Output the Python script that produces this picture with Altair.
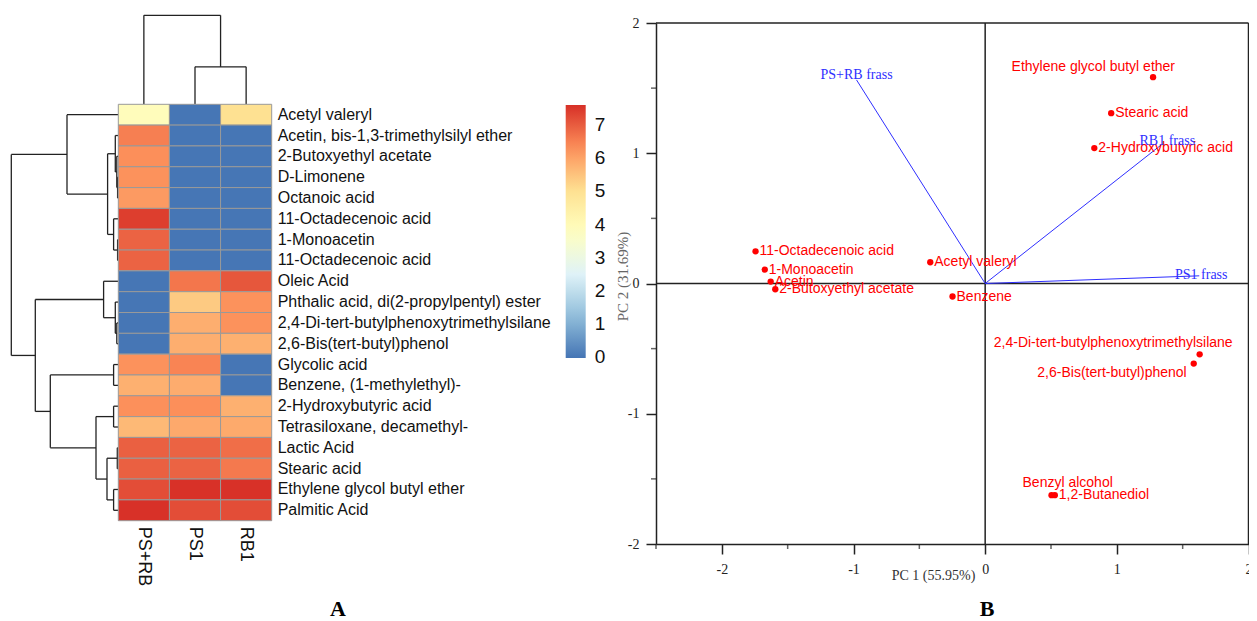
import json
import altair as alt
import pandas as pd

# ---------------- Panel A: heatmap data ----------------
samples = ["PS+RB", "PS1", "RB1"]
compounds = [
    "Acetyl valeryl",
    "Acetin, bis-1,3-trimethylsilyl ether",
    "2-Butoxyethyl acetate",
    "D-Limonene",
    "Octanoic acid",
    "11-Octadecenoic acid",
    "1-Monoacetin",
    "11-Octadecenoic acid",
    "Oleic Acid",
    "Phthalic acid, di(2-propylpentyl) ester",
    "2,4-Di-tert-butylphenoxytrimethylsilane",
    "2,6-Bis(tert-butyl)phenol",
    "Glycolic acid",
    "Benzene, (1-methylethyl)-",
    "2-Hydroxybutyric acid",
    "Tetrasiloxane, decamethyl-",
    "Lactic Acid",
    "Stearic acid",
    "Ethylene glycol butyl ether",
    "Palmitic Acid",
]
val_ps_rb = [3.9, 6.52, 6.3, 6.25, 6.13, 7.41, 6.9, 6.9, 0, 0, 0, 0,
             6.25, 5.8, 6.28, 5.65, 6.95, 6.95, 7.2, 7.58]
val_ps1 = [0, 0, 0, 0, 0, 0, 0, 0, 6.65, 5.39, 5.82, 5.82,
           6.45, 5.85, 6.3, 5.9, 6.9, 6.9, 7.58, 7.2]
val_rb1 = [5.0, 0, 0, 0, 0, 0, 0, 0, 7.07, 6.25, 6.25, 5.8,
           0, 0, 5.8, 5.88, 6.75, 6.6, 7.58, 7.2]

# hierarchical clustering merges (child a, child b, merge height); new node ids continue after leaves
row_merges = [
    (3, 4, 0.7), (2, 20, 1.5), (1, 21, 3.0), (6, 7, 0.7), (5, 23, 4.7),
    (22, 24, 10.7), (0, 25, 51.3), (10, 11, 1.5), (9, 27, 3.0), (8, 28, 14.7),
    (12, 13, 4.7), (14, 15, 4.7), (16, 17, 1.0), (18, 19, 4.7), (32, 33, 11.3),
    (31, 34, 22.3), (30, 35, 68.0), (29, 36, 83.0), (26, 37, 107.0),
]
col_merges = [(1, 2, 37.3), (0, 3, 88.7)]

color_min, color_max = -0.02, 7.6
legend_ticks = [0, 1, 2, 3, 4, 5, 6, 7]
palette = ["#4575B4", "#91BFDB", "#E0F3F8", "#FFFFBF", "#FEE090", "#FC8D59", "#D73027"]

# ---------------- Panel B: PCA biplot data ----------------
score_names = [
    "Ethylene glycol butyl ether", "Stearic acid", "2-Hydroxybutyric acid",
    "11-Octadecenoic acid", "1-Monoacetin", "Acetin", "2-Butoxyethyl acetate",
    "Acetyl valeryl", "Benzene", "2,4-Di-tert-butylphenoxytrimethylsilane",
    "2,6-Bis(tert-butyl)phenol", "Benzyl alcohol", "1,2-Butanediol",
]
score_pc1 = [1.275, 0.957, 0.829, -1.744, -1.674, -1.629, -1.594,
             -0.417, -0.248, 1.629, 1.584, 0.504, 0.529]
score_pc2 = [1.584, 1.308, 1.040, 0.247, 0.107, 0.015, -0.044,
             0.163, -0.100, -0.544, -0.615, -1.625, -1.625]
load_names = ["PS+RB frass", "RB1 frass", "PS1 frass"]
load_pc1 = [-0.977, 1.338, 1.626]
load_pc2 = [1.563, 1.065, 0.059]

pc1_lim = [-2.5, 2.0]
pc2_lim = [-2.0, 2.0]
pc_major = [-2, -1, 0, 1, 2]
pc1_minor = [-2.5, -1.5, -0.5, 0.5, 1.5]
pc2_minor = [-1.5, -0.5, 0.5, 1.5]

# ---------------- layout (pixels inside the view) ----------------
W, H = 1241, 613
heat_x = alt.Scale(domain=[0, len(samples)], range=[110.3, 263.7], nice=False, zero=False)
heat_y = alt.Scale(domain=[0, len(compounds)], range=[96.3, 512.7], nice=False, zero=False)
rowd_x = alt.Scale(domain=[0, 107.0], range=[110.3, 3.3], nice=False, zero=False)
cold_y = alt.Scale(domain=[0, 88.7], range=[96.3, 7.3], nice=False, zero=False)
PCA_LEFT, PCA_RIGHT, PCA_TOP, PCA_BOTTOM = 648, 1240.5, 15, 536
pca_x = alt.Scale(domain=pc1_lim, range=[PCA_LEFT, PCA_RIGHT], nice=False, zero=False)
pca_y = alt.Scale(domain=pc2_lim, range=[PCA_BOTTOM, PCA_TOP], nice=False, zero=False)

INK = "#222222"
RED = "#FF0000"
BLUE = "#2F2FFF"


def dendro_segments(merges, n):
    pos = {i: i + 0.5 for i in range(n)}
    hgt = {i: 0.0 for i in range(n)}
    segs = []
    for k, (a, b, h) in enumerate(merges):
        node = n + k
        segs.append(dict(h1=h, h2=h, p1=pos[a], p2=pos[b]))
        segs.append(dict(h1=hgt[a], h2=h, p1=pos[a], p2=pos[a]))
        segs.append(dict(h1=hgt[b], h2=h, p1=pos[b], p2=pos[b]))
        pos[node] = (pos[a] + pos[b]) / 2
        hgt[node] = h
    return pd.DataFrame(segs)


# heatmap table
values_by_sample = [val_ps_rb, val_ps1, val_rb1]
heat_rows = []
for c, s in enumerate(samples):
    for r, name in enumerate(compounds):
        heat_rows.append(dict(sample=s, name=name, c0=c, c1=c + 1, r0=r, r1=r + 1,
                              value=values_by_sample[c][r]))
heat_df = pd.DataFrame(heat_rows)
rowlab_df = pd.DataFrame(dict(name=compounds, rc=[r + 0.5 for r in range(len(compounds))],
                              edge=[len(samples)] * len(compounds)))
collab_df = pd.DataFrame(dict(sample=samples, cc=[c + 0.5 for c in range(len(samples))],
                              edge=[len(compounds)] * len(samples)))

cdomain = [color_min + (color_max - color_min) * k / (len(palette) - 1) for k in range(len(palette))]

heat = alt.Chart(heat_df).mark_rect(stroke="#999999", strokeWidth=1).encode(
    x=alt.X("c0:Q", scale=heat_x, axis=None), x2="c1:Q",
    y=alt.Y("r0:Q", scale=heat_y, axis=None), y2="r1:Q",
    color=alt.Color(
        "value:Q",
        scale=alt.Scale(domain=cdomain, range=palette, interpolate="rgb"),
        title=None,
        legend=alt.Legend(orient="none", legendX=557.7, legendY=97, direction="vertical",
                          gradientLength=253, gradientThickness=20, values=legend_ticks,
                          labelFont="Liberation Sans", labelFontSize=19, labelColor="#111111",
                          labelOffset=9, gradientStrokeWidth=0, padding=0),
    ),
)

row_labels = alt.Chart(rowlab_df).mark_text(
    align="left", baseline="middle", dx=6, font="Liberation Sans", fontSize=16, color="#111111"
).encode(
    x=alt.X("edge:Q", scale=heat_x, axis=None),
    y=alt.Y("rc:Q", scale=heat_y, axis=None),
    text="name:N",
)

col_labels = alt.Chart(collab_df).mark_text(
    align="left", baseline="middle", angle=90, dx=6, font="Liberation Sans", fontSize=18, color="#111111"
).encode(
    x=alt.X("cc:Q", scale=heat_x, axis=None),
    y=alt.Y("edge:Q", scale=heat_y, axis=None),
    text="sample:N",
)

row_dendro = alt.Chart(dendro_segments(row_merges, len(compounds))).mark_rule(
    color=INK, strokeWidth=1.3
).encode(
    x=alt.X("h1:Q", scale=rowd_x, axis=None), x2="h2:Q",
    y=alt.Y("p1:Q", scale=heat_y, axis=None), y2="p2:Q",
)

col_dendro = alt.Chart(dendro_segments(col_merges, len(samples))).mark_rule(
    color=INK, strokeWidth=1.3
).encode(
    x=alt.X("p1:Q", scale=heat_x, axis=None), x2="p2:Q",
    y=alt.Y("h1:Q", scale=cold_y, axis=None), y2="h2:Q",
)

# ---------------- PCA ----------------
score_df = pd.DataFrame(dict(name=score_names, pc1=score_pc1, pc2=score_pc2))
load_df = pd.DataFrame(dict(name=load_names, pc1=load_pc1, pc2=load_pc2,
                            ox=[0.0] * len(load_names), oy=[0.0] * len(load_names)))
frame_df = pd.DataFrame(dict(
    x1=[pc1_lim[0], pc1_lim[1], 0.0, pc1_lim[0]],
    x2=[pc1_lim[1], pc1_lim[1], 0.0, pc1_lim[1]],
    y1=[pc2_lim[1], pc2_lim[0], pc2_lim[0], 0.0],
    y2=[pc2_lim[1], pc2_lim[1], pc2_lim[1], 0.0],
))

frame = alt.Chart(frame_df).mark_rule(color=INK, strokeWidth=1.5).encode(
    x=alt.X("x1:Q", scale=pca_x, axis=None), x2="x2:Q",
    y=alt.Y("y1:Q", scale=pca_y, axis=None), y2="y2:Q",
)

x_axis = alt.Axis(
    orient="bottom", values=pc_major, offset=-(H - PCA_BOTTOM), tickSize=10, tickWidth=1.5,
    tickColor=INK, domainColor=INK, domainWidth=1.5, grid=False, labelFont="Liberation Serif",
    labelFontSize=14, labelColor=INK, labelPadding=8, labelFlush=False, labelOverlap=False,
    labelExpr="'' + datum.value", title="PC 1 (55.95%)", titleFont="Liberation Serif",
    titleFontSize=14, titleFontWeight="normal", titleColor="#333333", titleX=925, titleY=31,
    titleAlign="center", titleBaseline="middle",
)
y_axis = alt.Axis(
    orient="left", values=pc_major, offset=-PCA_LEFT, tickSize=10, tickWidth=1.5, tickColor=INK,
    domainColor=INK, domainWidth=1.5, grid=False, labelFont="Liberation Serif", labelFontSize=14,
    labelColor=INK, labelPadding=7, labelFlush=False, labelOverlap=False,
    labelExpr="'' + datum.value", title="PC 2 (31.69%)", titleFont="Liberation Serif",
    titleFontSize=15, titleFontWeight="normal", titleColor="#666666", titleX=-34, titleY=268,
    titleAngle=270, titleAlign="center", titleBaseline="middle",
)

points = alt.Chart(score_df).mark_circle(size=40, color=RED, opacity=1).encode(
    x=alt.X("pc1:Q", scale=pca_x, axis=x_axis),
    y=alt.Y("pc2:Q", scale=pca_y, axis=y_axis),
)

minor_x = alt.Chart(pd.DataFrame(dict(v=pc1_minor, base=[pc2_lim[0]] * len(pc1_minor)))).mark_tick(
    orient="vertical", size=5, thickness=1.5, color=INK, yOffset=2.5
).encode(
    x=alt.X("v:Q", scale=pca_x, axis=None),
    y=alt.Y("base:Q", scale=pca_y, axis=None),
)
minor_y = alt.Chart(pd.DataFrame(dict(v=pc2_minor, base=[pc1_lim[0]] * len(pc2_minor)))).mark_tick(
    orient="horizontal", size=5, thickness=1.5, color=INK, xOffset=-2.5
).encode(
    x=alt.X("base:Q", scale=pca_x, axis=None),
    y=alt.Y("v:Q", scale=pca_y, axis=None),
)

vectors = alt.Chart(load_df).mark_rule(color=BLUE, strokeWidth=1).encode(
    x=alt.X("ox:Q", scale=pca_x, axis=None), x2="pc1:Q",
    y=alt.Y("oy:Q", scale=pca_y, axis=None), y2="pc2:Q",
)

# label placement (layout only): align, dx, dy
score_label_place = {
    "Ethylene glycol butyl ether": ("right", 22, -10),
    "2,4-Di-tert-butylphenoxytrimethylsilane": ("right", 33, -11),
    "2,6-Bis(tert-butyl)phenol": ("right", -7, 9),
    "Benzyl alcohol": ("left", -29, -12),
}
load_label_place = {
    "PS+RB frass": ("center", 0, -5),
    "RB1 frass": ("center", 6, -4),
    "PS1 frass": ("center", 2, -1),
}


def xy_enc():
    return dict(x=alt.X("pc1:Q", scale=pca_x, axis=None), y=alt.Y("pc2:Q", scale=pca_y, axis=None))


score_label_layers = [
    alt.Chart(score_df).transform_filter(
        "indexof(%s, datum.name) < 0" % json.dumps(list(score_label_place))
    ).mark_text(align="left", baseline="middle", dx=4, font="Liberation Sans", fontSize=14, color=RED)
    .encode(text="name:N", **xy_enc())
]
for nm, (al, ddx, ddy) in score_label_place.items():
    score_label_layers.append(
        alt.Chart(score_df).transform_filter(alt.datum.name == nm)
        .mark_text(align=al, baseline="middle", dx=ddx, dy=ddy, font="Liberation Sans",
                   fontSize=14, color=RED)
        .encode(text="name:N", **xy_enc())
    )

load_label_layers = []
for nm, (al, ddx, ddy) in load_label_place.items():
    load_label_layers.append(
        alt.Chart(load_df).transform_filter(alt.datum.name == nm)
        .mark_text(align=al, baseline="middle", dx=ddx, dy=ddy, font="Liberation Serif",
                   fontSize=14, color=BLUE)
        .encode(text="name:N", **xy_enc())
    )

panel_a = alt.Chart(pd.DataFrame(dict(t=["A"]))).mark_text(
    font="Liberation Serif", fontSize=22, fontWeight="bold", color="#000000", baseline="middle"
).encode(x=alt.value(330), y=alt.value(601), text="t:N")
panel_b = alt.Chart(pd.DataFrame(dict(t=["B"]))).mark_text(
    font="Liberation Serif", fontSize=22, fontWeight="bold", color="#000000", baseline="middle"
).encode(x=alt.value(979), y=alt.value(601), text="t:N")

chart = alt.layer(
    row_dendro, col_dendro, heat, row_labels, col_labels,
    frame, minor_x, minor_y, vectors, points,
    *score_label_layers, *load_label_layers, panel_a, panel_b,
).resolve_scale(
    x="independent", y="independent"
).properties(
    width=W, height=H, padding=0, autosize=alt.AutoSizeParams(type="none"),
    background="white",
).configure_view(strokeWidth=0)

chart.save("out.html", embed_options={"renderer": "svg", "actions": False})
